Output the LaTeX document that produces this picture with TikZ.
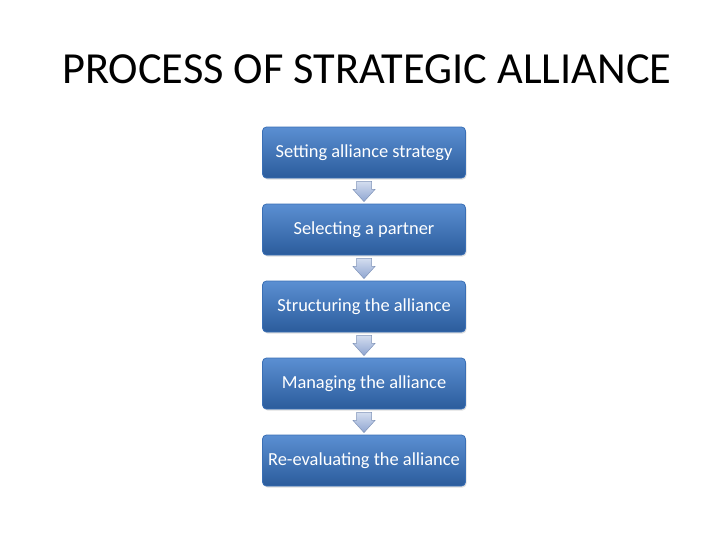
\documentclass[tikz,border=0pt]{standalone}
\usepackage{fontspec}
\setmainfont{Carlito}
\usepackage{xcolor}
\usetikzlibrary{calc,shadows}
\definecolor{boxtop}{HTML}{5B8FD2}
\definecolor{boxbot}{HTML}{2B5C9C}
\definecolor{boxline}{HTML}{3A6FB5}
\definecolor{arrtop}{HTML}{D3DDEF}
\definecolor{arrbot}{HTML}{8FA5D1}
\definecolor{arrline}{HTML}{7F93B8}
\tikzstyle{stepbox} = [rectangle, rounded corners=4pt, draw=boxline, line width=0.8pt,
  top color=boxtop, bottom color=boxbot, text=white, minimum width=203pt,
  minimum height=51pt, font=\fontsize{18.4}{21}\selectfont,
  drop shadow={shadow xshift=1pt, shadow yshift=-1.5pt, opacity=0.25}]
\tikzstyle{blockarrow} = [draw=arrline, line width=0.5pt, top color=arrtop,
  bottom color=arrbot, line join=miter]

\begin{document}
\begin{tikzpicture}
    [x=1pt,y=-1pt]
    \useasboundingbox (0,0) rectangle (728,546);
    \node[anchor=base west, inner sep=0pt, font=\fontsize{44.4}{50}\selectfont] (title) at (62,83)
      {PROCESS OF STRATEGIC ALLIANCE};
    \node[stepbox] (s1) at (364,152.5) {Setting alliance strategy};
    \node[stepbox] (s2) at (364,229.5) {Selecting a partner};
    \node[stepbox] (s3) at (364,306.5) {Structuring the alliance};
    \node[stepbox] (s4) at (364,383.5) {Managing the alliance};
    \node[stepbox] (s5) at (364,460.5) {Re-evaluating the alliance};
    \foreach \from/\to in {s1/s2,s2/s3,s3/s4,s4/s5}
    \path[blockarrow] let \p1=(\from.south), \p2=(\to.north) in
      (\x1-7.5pt,\y1-3pt) -- (\x1+7.5pt,\y1-3pt) -- (\x1+7.5pt,\y1-11pt)
      -- (\x1+11pt,\y1-11pt) -- (\x2,\y2+2pt) -- (\x1-11pt,\y1-11pt)
      -- (\x1-7.5pt,\y1-11pt) -- cycle;
\end{tikzpicture}
\end{document}
